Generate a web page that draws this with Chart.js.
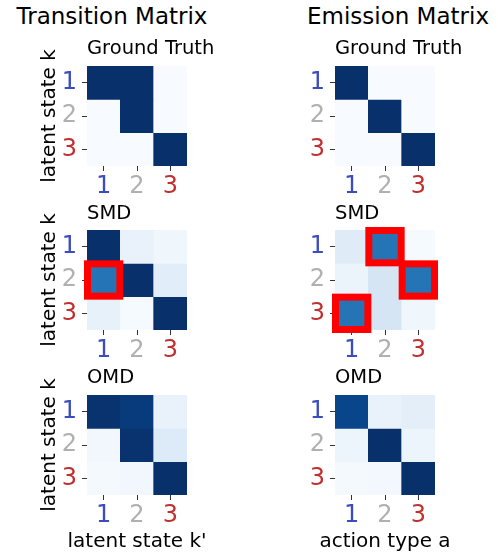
<!DOCTYPE html>
<html>
<head>
<meta charset="utf-8">
<script src="https://cdn.jsdelivr.net/npm/chart.js@4/dist/chart.umd.min.js"></script>
<style>
  html, body { margin: 0; padding: 0; background: #ffffff; }
  #wrap { position: relative; width: 498px; height: 555px; overflow: hidden; font-family: 'DejaVu Sans', sans-serif; color: #000; }
  canvas { position: absolute; }
  .t { position: absolute; white-space: nowrap; line-height: 1; z-index: 2; }
  .rot { transform: translate(-50%, -50%) rotate(-90deg); }
</style>
</head>
<body>
<div id="wrap">
  <div class="t" style="font-size:23px; left:112px; top:4.5px; transform:translateX(-50%);">Transition Matrix</div>
  <div class="t" style="font-size:23px; left:398px; top:4.5px; transform:translateX(-50%);">Emission Matrix</div>

  <div class="t" style="font-size:19.5px; left:87px; top:37.5px;">Ground Truth</div>
  <div class="t" style="font-size:19.5px; left:335px; top:37.5px;">Ground Truth</div>
  <div class="t" style="font-size:19.5px; left:87px; top:202.5px;">SMD</div>
  <div class="t" style="font-size:19.5px; left:335px; top:202.5px;">SMD</div>
  <div class="t" style="font-size:19.5px; left:87px; top:366.5px;">OMD</div>
  <div class="t" style="font-size:19.5px; left:335px; top:366.5px;">OMD</div>

  <div class="t rot" style="font-size:20px; left:48px; top:115.5px;">latent state k</div>
  <div class="t rot" style="font-size:20px; left:48px; top:280px;">latent state k</div>
  <div class="t rot" style="font-size:20px; left:48px; top:445px;">latent state k</div>

  <div class="t" style="font-size:20px; left:137px; top:529.8px; transform:translateX(-50%);">latent state k'</div>
  <div class="t" style="font-size:20px; left:385px; top:529.8px; transform:translateX(-50%);">action type a</div>
</div>
<script>
// ---------------- data ----------------
const categories = ['1', '2', '3'];
const tickColors = ['#3b4cc0', '#b0b0b0', '#c03030'];

const transitionGT  = [[1, 1, 0], [0, 1, 0], [0, 0, 1]];
const transitionSMD = [[1, 0.07, 0.04], [0.74, 1, 0.11], [0.08, 0.01, 1]];
const transitionOMD = [[0.99, 0.96, 0.07], [0.03, 0.99, 0.13], [0.015, 0.03, 1]];

const emissionGT  = [[1, 0, 0], [0, 1, 0], [0, 0, 1]];
const emissionSMD = [[0.12, 0.74, 0.01], [0.06, 0.17, 0.74], [0.74, 0.17, 0.04]];
const emissionOMD = [[0.92, 0.07, 0.1], [0.05, 1, 0.05], [0.015, 0.02, 1]];

// highlighted (wrongly recovered) cells: [row, col]
const transitionSMDErrors = [[1, 0]];
const emissionSMDErrors   = [[0, 1], [1, 2], [2, 0]];

// ---------------- Blues colormap ----------------
const bluesStops = ['#f7fbff', '#deebf7', '#c6dbef', '#9ecae1', '#6baed6', '#4292c6', '#2171b5', '#08519c', '#08306b'];
function hex2rgb(h) { return [parseInt(h.slice(1, 3), 16), parseInt(h.slice(3, 5), 16), parseInt(h.slice(5, 7), 16)]; }
const bluesRGB = bluesStops.map(hex2rgb);
function blues(v) {
  v = Math.max(0, Math.min(1, v));
  const p = v * (bluesRGB.length - 1);
  const i = Math.min(Math.floor(p), bluesRGB.length - 2);
  const t = p - i;
  const a = bluesRGB[i], b = bluesRGB[i + 1];
  const c = a.map((x, k) => Math.round(x + (b[k] - x) * t));
  return 'rgb(' + c.join(',') + ')';
}

// ---------------- highlight plugin ----------------
const highlightPlugin = {
  id: 'highlight',
  afterDatasetsDraw(chart, args, opts) {
    const cells = opts.cells || [];
    const ctx = chart.ctx;
    ctx.save();
    ctx.strokeStyle = '#ff0000';
    ctx.lineWidth = 7;
    ctx.lineJoin = 'miter';
    cells.forEach(([r, c]) => {
      const el = chart.getDatasetMeta(r).data[c];
      if (!el) return;
      const p = el.getProps(['x', 'y', 'base', 'width'], true);
      const left = p.x - p.width / 2, right = p.x + p.width / 2;
      const top = Math.min(p.y, p.base), bottom = Math.max(p.y, p.base);
      const inset = 0.5;
      ctx.strokeRect(left + inset, top + inset, right - left - 2 * inset, bottom - top - 2 * inset);
    });
    ctx.restore();
  }
};

// ---------------- panels ----------------
const AREA = 100, PADTOP = 20, XAXIS_H = 44, COLW = 249;
const panels = [
  { m: transitionGT,  col: 0, areaTop: 66,  err: [] },
  { m: emissionGT,    col: 1, areaTop: 66,  err: [] },
  { m: transitionSMD, col: 0, areaTop: 230, err: transitionSMDErrors },
  { m: emissionSMD,   col: 1, areaTop: 230, err: emissionSMDErrors },
  { m: transitionOMD, col: 0, areaTop: 395, err: [] },
  { m: emissionOMD,   col: 1, areaTop: 395, err: [] },
];

const wrap = document.getElementById('wrap');
const tickFont = { family: 'DejaVu Sans', size: 24 };

panels.forEach(pn => {
  const cv = document.createElement('canvas');
  const H = PADTOP + AREA + XAXIS_H;
  cv.width = COLW; cv.height = H;
  cv.style.width = COLW + 'px'; cv.style.height = H + 'px';
  cv.style.left = (pn.col * COLW) + 'px';
  cv.style.top = (pn.areaTop - PADTOP) + 'px';
  wrap.appendChild(cv);

  const yAxisW = pn.col === 0 ? 87 : 86;
  const rightPad = COLW - yAxisW - AREA;

  const datasets = pn.m.map((row, r) => ({
    label: 'row ' + categories[r],
    data: row.map(() => 1),
    backgroundColor: row.map(v => blues(v)),
    borderWidth: 0,
    borderSkipped: false,
    barPercentage: 1,
    categoryPercentage: 1,
    stack: 's'
  }));

  new Chart(cv, {
    type: 'bar',
    data: { labels: categories, datasets },
    options: {
      responsive: false,
      animation: false,
      events: [],
      devicePixelRatio: 1,
      layout: { padding: { top: PADTOP, right: rightPad, left: 0, bottom: 0 } },
      plugins: {
        legend: { display: false },
        tooltip: { enabled: false },
        highlight: { cells: pn.err }
      },
      scales: {
        x: {
          stacked: true,
          offset: true,
          afterFit: s => { s.height = XAXIS_H; },
          grid: { display: true, drawOnChartArea: false, drawTicks: true, tickLength: 5, offset: false, tickColor: '#333333', tickWidth: 1 },
          border: { display: false },
          ticks: { font: tickFont, padding: 1, color: ctx => tickColors[ctx.index], maxRotation: 0 }
        },
        y: {
          stacked: true,
          reverse: true,
          min: 0, max: 3,
          afterFit: s => { s.width = yAxisW; },
          afterBuildTicks: s => { s.ticks = [{ value: 0.5 }, { value: 1.5 }, { value: 2.5 }]; },
          grid: { display: true, drawOnChartArea: false, drawTicks: true, tickLength: 5, tickColor: '#333333', tickWidth: 1 },
          border: { display: false },
          ticks: {
            font: tickFont, padding: 5,
            color: ctx => tickColors[ctx.index],
            callback: v => categories[Math.floor(v)]
          }
        }
      }
    },
    plugins: [highlightPlugin]
  });
});
</script>
</body>
</html>
